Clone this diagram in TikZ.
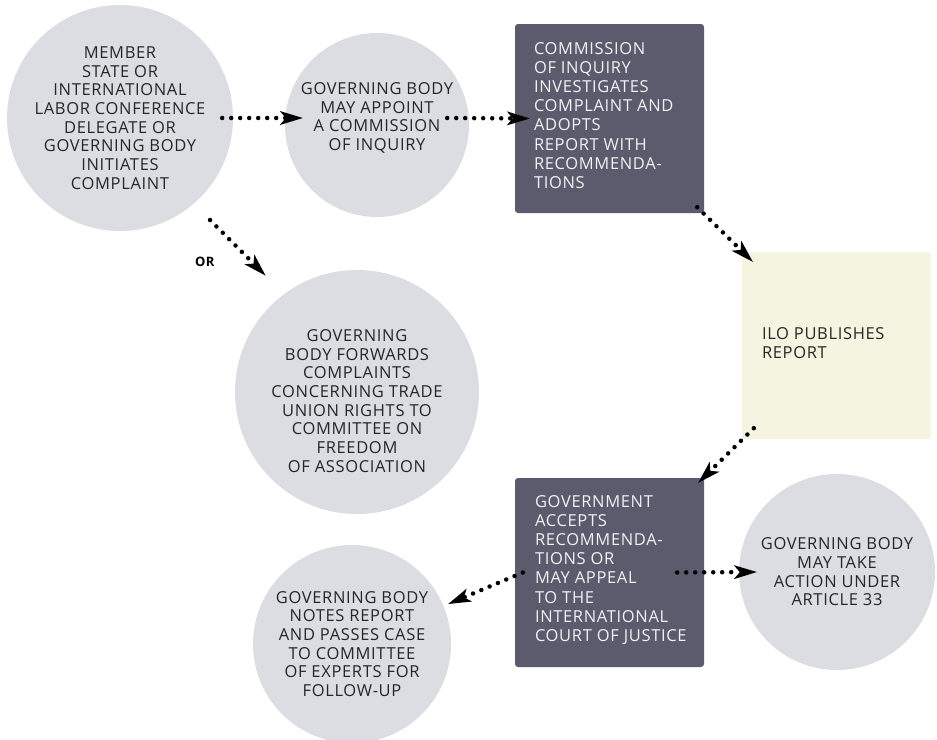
\documentclass[tikz,border=0pt]{standalone}
\usepackage{fontspec}
\setmainfont{Open Sans}[LetterSpace=4]
\usetikzlibrary{calc,arrows.meta}
\definecolor{bubblegray}{HTML}{DCDDE3}
\definecolor{slate}{HTML}{5C5A6D}
\definecolor{cream}{HTML}{F5F4E1}

\begin{document}
\begin{tikzpicture}[x=1pt,y=-1pt,
		bubble/.style={circle,fill=bubblegray,inner sep=0pt,align=center,text=black!85,
			font=\fontsize{16.5}{18.7}\selectfont},
		bubtext/.style={inner sep=0pt,align=center,text=black!85,
			font=\fontsize{16.5}{18.7}\selectfont},
		slatebox/.style={rectangle,rounded corners=3pt,fill=slate,minimum width=189pt,minimum height=189pt},
		creambox/.style={rectangle,rounded corners=3pt,fill=cream,minimum width=189pt,minimum height=187pt},
		boxtext/.style={inner sep=0pt,align=left,anchor=west,font=\fontsize{16.5}{19.1}\selectfont},
		flow/.style={line width=4.5pt,line cap=round,dash pattern=on 0pt off 9pt,
			-{Stealth[length=23pt,width=14pt,inset=6pt,line width=0pt]}},
		orlabel/.style={inner sep=0pt,font=\fontsize{13}{13}\bfseries\selectfont}]
	\useasboundingbox (0,0) rectangle (937,739);
	
	% the steps
	\node[bubble,minimum size=226pt] (complaint) at (120,118)
		{MEMBER\\STATE OR\\INTERNATIONAL\\LABOR CONFERENCE\\DELEGATE OR\\GOVERNING BODY\\INITIATES\\COMPLAINT};
	\node[bubble,minimum size=184pt,
		label={[bubtext,yshift=7pt]center:GOVERNING BODY\\MAY APPOINT\\A COMMISSION\\OF INQUIRY}] (appoint) at (377,125) {};
	\node[slatebox] (inquiry) at (609.5,118.5) {};
	\node[boxtext,text=white!92!slate] (inquiry-t) at ($(inquiry.west)+(19,-3)$)
		{COMMISSION\\OF INQUIRY\\INVESTIGATES\\COMPLAINT AND\\ADOPTS\\REPORT WITH\\RECOMMENDA-\\TIONS};
	\node[bubble,minimum size=244pt,
		label={[bubtext,yshift=-9pt]center:GOVERNING\\BODY FORWARDS\\COMPLAINTS\\CONCERNING TRADE\\UNION RIGHTS TO\\COMMITTEE ON\\FREEDOM\\OF ASSOCIATION}] (freedom) at (357,392) {};
	\node[creambox] (publish) at (836.5,345.5) {};
	\node[boxtext,text=black!85] (publish-t) at ($(publish.west)+(20,-2)$) {ILO PUBLISHES\\REPORT};
	\node[slatebox] (govt) at (609.5,572.5) {};
	\node[boxtext,text=white!92!slate] (govt-t) at ($(govt.west)+(20,-2.5)$)
		{GOVERNMENT\\ACCEPTS\\RECOMMENDA-\\TIONS OR\\MAY APPEAL\\TO THE\\INTERNATIONAL\\COURT OF JUSTICE};
	\node[bubble,minimum size=196pt] (action) at (837,572)
		{GOVERNING BODY\\MAY TAKE\\ACTION UNDER\\ARTICLE 33};
	\node[bubble,minimum size=198pt] (followup) at (352,644)
		{GOVERNING BODY\\NOTES REPORT\\AND PASSES CASE\\TO COMMITTEE\\OF EXPERTS FOR\\FOLLOW-UP};
	
	% dotted arrows
	\draw[flow] ($(complaint.east)+(-11,0)$) -- ($(appoint.west)+(18,-7)$);
	\draw[flow] ($(appoint.east)+(-22,-7)$) -- ($(inquiry.west)+(15,0)$);
	\draw[flow] ($(inquiry.south east)+(-7,-6)$) -- ($(publish.north west)+(11,10)$);
	\draw[flow] ($(publish.south west)+(12,-11)$) -- ($(govt.north east)+(-6,5)$);
	\draw[flow] ($(govt.east)+(-27,0)$) -- ($(action.west)+(18,0)$);
	\draw[flow] ($(govt.west)+(8,0)$) -- ($(followup.east)+(-3,-40)$);
	\draw[flow] ($(complaint.south east)+(10,22)$) -- ($(freedom.north west)+(-5,-30)$)
		node[orlabel,pos=0.75,left=35pt] (or) {OR};
\end{tikzpicture}
\end{document}
